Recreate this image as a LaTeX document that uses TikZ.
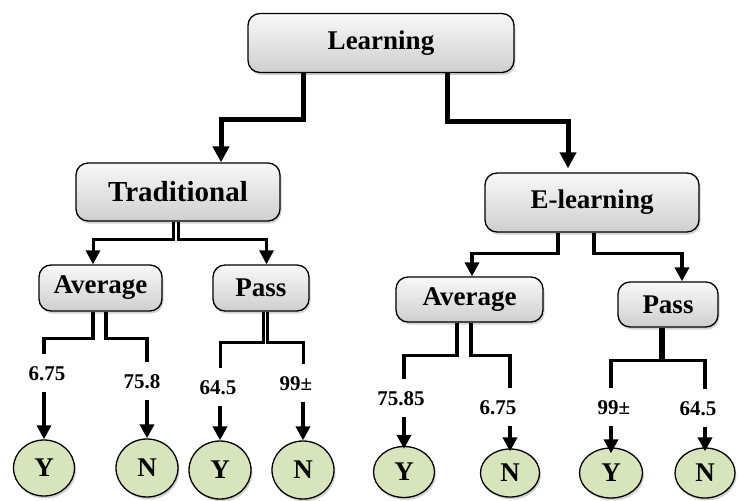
\documentclass[tikz,border=0pt]{standalone}
\usepackage{fontspec}
\setmainfont{Liberation Serif}
\usetikzlibrary{arrows.meta,shapes.geometric,shadows}
\definecolor{leafgreen}{RGB}{216,228,188}
\begin{document}
\begin{tikzpicture}[x=1pt,y=-1pt,
  box/.style={draw=black, line width=1.3pt, rounded corners=12pt,
    top color=gray!5, bottom color=gray!38,
    drop shadow={shadow xshift=1.5pt, shadow yshift=-2.5pt, opacity=0.35},
    font=\fontsize{27}{31}\selectfont\bfseries, inner sep=0pt},
  leaf/.style={ellipse, draw=black, line width=1.3pt, fill=leafgreen,
    drop shadow={shadow xshift=1.5pt, shadow yshift=-2.5pt, opacity=0.35},
    font=\fontsize{27}{31}\selectfont\bfseries, inner sep=0pt,
    minimum width=61pt},
  lab/.style={font=\fontsize{21}{25}\selectfont\bfseries, text height=14.5pt,
    text depth=0pt, inner xsep=0pt, inner ysep=12pt},
  conn/.style={line width=3.5pt},
  arr/.style={line width=3.5pt, -{Triangle[width=14pt,length=14pt]}},
  bigarr/.style={line width=5pt, -{Triangle[width=16pt,length=16pt]}},
]
\useasboundingbox (0,0) rectangle (740,501);

% boxes
\node[box, minimum width=266pt, minimum height=59pt] (learning) at (381,43) {Learning};
\node[box, minimum width=204pt, minimum height=58pt, font=\fontsize{29}{33}\selectfont\bfseries] (trad) at (178,192) {Traditional};
\node[box, minimum width=214pt, minimum height=59pt] (elearn) at (592,202.5) {E-learning};
\node[box, minimum width=123pt, minimum height=46pt] (lavg) at (100.5,288) {Average};
\node[box, minimum width=96pt, minimum height=46pt] (lpass) at (261,288) {Pass};
\node[box, minimum width=147pt, minimum height=45pt] (ravg) at (469.5,299.5) {Average};
\node[box, minimum width=100pt, minimum height=45pt] (rpass) at (668,304.5) {Pass};

% leaves
\node[leaf, minimum height=56pt] (y1) at (44,468) {Y};
\node[leaf, minimum height=58pt, minimum width=62pt] (n1) at (147,468) {N};
\node[leaf, minimum height=58pt, minimum width=62pt] (y2) at (220,470) {Y};
\node[leaf, minimum height=58pt, minimum width=62pt] (n2) at (303,470) {N};
\node[leaf, minimum height=51pt] (y3) at (404,472) {Y};
\node[leaf, minimum height=48pt, minimum width=59pt] (n3) at (510,473) {N};
\node[leaf, minimum height=50pt, minimum width=63pt] (y4) at (611,473) {Y};
\node[leaf, minimum height=50pt, minimum width=60pt] (n4) at (705,473) {N};

% labels
\node[lab] (l1) at (47,373) {6.75};
\node[lab] (l2) at (142,381) {75.8};
\node[lab] (l3) at (218,387) {64.5};
\node[lab] (l4) at (296,383) {99±};
\node[lab] (r1) at (401,398) {75.85};
\node[lab] (r2) at (498,407) {6.75};
\node[lab] (r3) at (614,407) {99±};
\node[lab] (r4) at (698,408) {64.5};

% Learning -> children
\draw[bigarr] ([xshift=-78pt]learning.south) -- ++(0,46) -| ([xshift=43pt]trad.north);
\draw[bigarr] ([xshift=66pt]learning.south) -- ++(0,48) -| ([xshift=-24pt,yshift=4pt]elearn.north);

% Traditional -> children
\draw[arr, line width=3pt] ([xshift=-4.5pt]trad.south) -- ++(0,18) -| ([xshift=-7.5pt]lavg.north);
\draw[arr, line width=3pt] ([xshift=0.5pt]trad.south) -- ++(0,18) -| ([xshift=5.5pt]lpass.north);

% E-learning -> children
\draw[arr] ([xshift=-34pt]elearn.south) -- ++(0,21) -| ([xshift=2.5pt]ravg.north);
\draw[arr] ([xshift=2pt]elearn.south) -- ++(0,21) -| ([xshift=14pt]rpass.north);

% Average (left) -> labels
\draw[conn] ([xshift=-7.5pt]lavg.south) -- ++(0,27) -| (l1.north -| y1);
\draw[conn] ([xshift=5.5pt]lavg.south) -- ++(0,27) -| (l2.north -| n1);
% Pass (left) -> labels
\draw[conn, line width=3pt] ([xshift=2.3pt]lpass.south) -- ++(0,31) -| (l3.north -| y2);
\draw[conn, line width=3pt] ([xshift=6.2pt]lpass.south) -- ++(0,31) -| (l4.north -| n2);
% Average (right) -> labels
\draw[conn] ([xshift=-12.5pt]ravg.south) -- ++(0,33) -| (r1.north -| y3);
\draw[conn] ([xshift=1.5pt]ravg.south) -- ++(0,33) -| (r2.north -| n3);
% Pass (right) -> labels
\draw[conn, line width=6pt] ([xshift=-6pt]rpass.south) -- ++(0,33);
\draw[conn] ([xshift=-6pt]rpass.south) -- ++(0,33) -| (r3.north -| y4);
\draw[conn] ([xshift=-6pt]rpass.south) -- ++(0,33) -| (r4.north -| n4);

% labels -> leaves
\draw[arr] (l1.south -| y1) -- (y1.north);
\draw[arr] (l2.south -| n1) -- (n1.north);
\draw[arr] (l3.south -| y2) -- (y2.north);
\draw[arr] (l4.south -| n2) -- (n2.north);
\draw[arr] (r1.south -| y3) -- ([yshift=-3pt]y3.north);
\draw[arr] (r2.south -| n3) -- ([yshift=-3pt]n3.north);
\draw[arr] (r3.south -| y4) -- ([yshift=-6pt]y4.north);
\draw[arr] (r4.south -| n4) -- ([yshift=-4pt]n4.north);
\end{tikzpicture}
\end{document}
